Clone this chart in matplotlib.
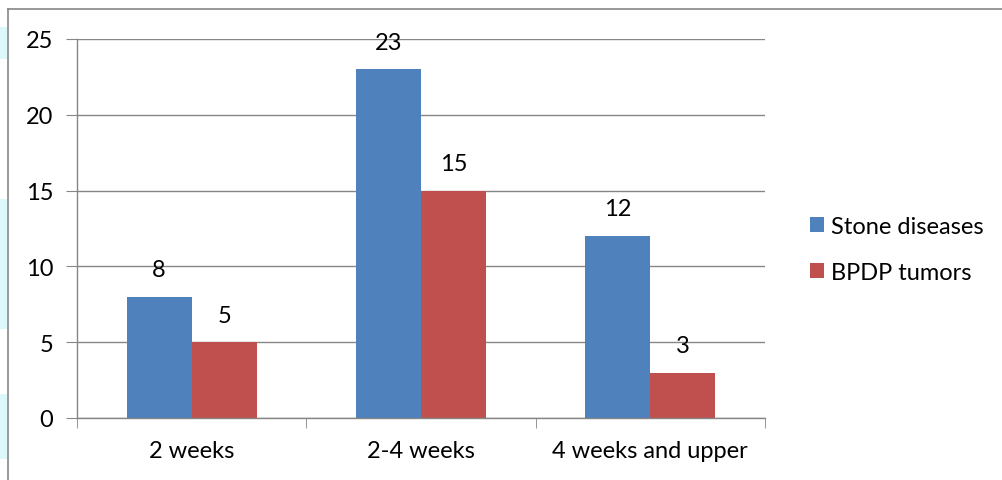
import numpy as np
import matplotlib.pyplot as plt
from matplotlib.lines import Line2D
from matplotlib.patches import Rectangle

# data
categories = ['2 weeks', '2-4 weeks', '4 weeks and upper']
stone = [8, 23, 12]
bpdp = [5, 15, 3]
series_names = ['Stone diseases', 'BPDP tumors']

blue = '#4F81BD'
red = '#C0504D'
grey = '#868686'

plt.rcParams['font.family'] = ['Lato', 'DejaVu Sans']
fs = 17

fig = plt.figure(figsize=(10.03, 4.81), dpi=100)
ax = fig.add_axes([77/1003, 62/481, 688/1003, 379/481])

x = np.arange(len(categories))
w = 0.284
b1 = ax.bar(x - w/2, stone, w, color=blue, label=series_names[0])
b2 = ax.bar(x + w/2, bpdp, w, color=red, label=series_names[1])

# value labels above the bars
for bars in (b1, b2):
    for rect in bars:
        ax.annotate(str(int(rect.get_height())),
                    (rect.get_x() + rect.get_width()/2, rect.get_height()),
                    xytext=(0, 12), textcoords='offset points',
                    ha='center', va='bottom', fontsize=fs)

ax.set_xlim(-0.5, 2.5)
ax.set_ylim(0, 25)
ax.set_yticks(range(0, 26, 5))
ax.yaxis.grid(True, color=grey, linewidth=1)
ax.set_axisbelow(True)

for s in ['top', 'right']:
    ax.spines[s].set_visible(False)
for s in ['left', 'bottom']:
    ax.spines[s].set_color(grey)
    ax.spines[s].set_linewidth(1)

ax.set_xticks(x)
ax.set_xticklabels(categories, fontsize=fs)
ax.tick_params(axis='x', length=0, pad=16)
ax.set_xticks([-0.5, 0.5, 1.5, 2.5], minor=True)
ax.tick_params(axis='x', which='minor', length=7, color=grey, direction='out')
ax.tick_params(axis='y', length=8, color=grey, direction='out', labelsize=fs, pad=9)

# legend
leg = fig.legend(handles=[b1, b2], loc='center left', bbox_to_anchor=(0.786, 0.48),
                 frameon=False, fontsize=fs, handlelength=0.6, handleheight=0.6,
                 handletextpad=0.3, labelspacing=1.05)

# outer chart border and left-edge artefacts
fig.add_artist(Line2D([8/1003, 8/1003], [0, 1 - 10/481], color=grey, lw=1.2, transform=fig.transFigure))
fig.add_artist(Line2D([8/1003, 1], [1 - 10/481, 1 - 10/481], color=grey, lw=1.2, transform=fig.transFigure))
for y0, y1 in [(28, 60), (200, 330), (395, 460)]:
    fig.add_artist(Rectangle((0, 1 - y1/481), 7/1003, (y1 - y0)/481,
                             color='#DDF8FA', transform=fig.transFigure, lw=0))

fig.savefig('out.png', dpi=100)
